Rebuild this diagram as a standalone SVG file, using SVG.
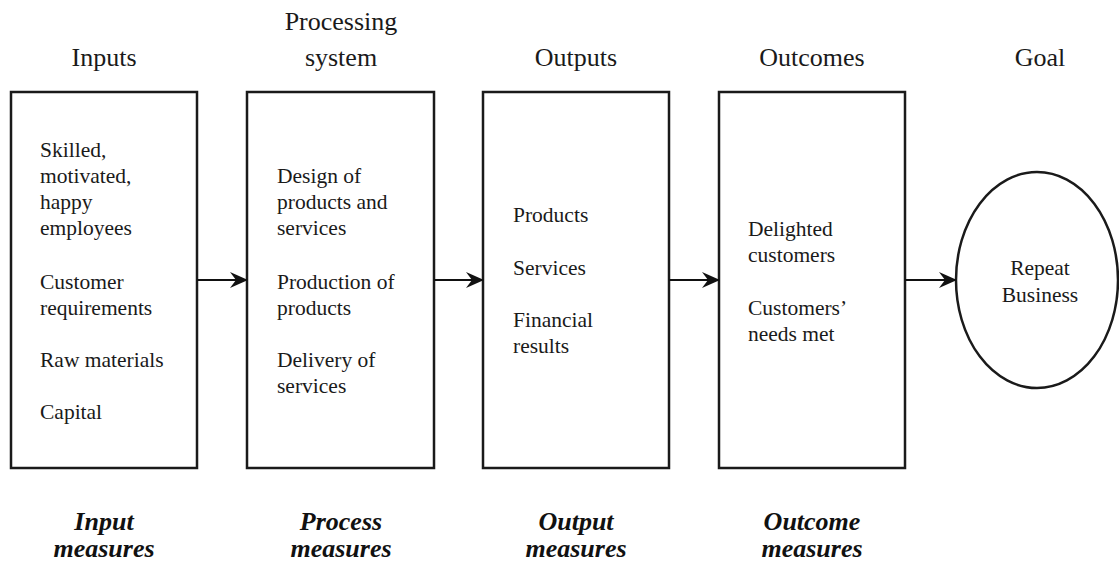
<svg xmlns="http://www.w3.org/2000/svg" width="1119" height="562" viewBox="0 0 1119 562">
  <style>
    text { font-family: "Liberation Serif", "Times New Roman", Times, serif; }
    .box { fill: #ffffff; stroke: #1a1a1a; stroke-width: 2.5; }
    .head { font-size: 26px; fill: #1a1a1a; text-anchor: middle; }
    .body { font-size: 21.5px; fill: #1a1a1a; }
    .mid { text-anchor: middle; }
    .measure { font-size: 26px; font-weight: bold; font-style: italic; fill: #111111; text-anchor: middle; }
    .link { stroke: #111111; stroke-width: 2.2; fill: none; }
  </style>
  <defs>
    <marker id="arrow" viewBox="0 0 18 16" refX="17" refY="8" markerWidth="18" markerHeight="16" markerUnits="userSpaceOnUse" orient="auto">
      <path d="M0,0 L18,8 L0,16 L6,8 Z" fill="#111111"/>
    </marker>
  </defs>

  <rect width="1119" height="562" fill="#ffffff"/>

  <!-- Column headings -->
  <g id="headings">
    <text class="head" x="104" y="66">Inputs</text>
    <text class="head" x="341" y="30">Processing</text>
    <text class="head" x="341" y="66">system</text>
    <text class="head" x="576" y="66">Outputs</text>
    <text class="head" x="812" y="66">Outcomes</text>
    <text class="head" x="1040" y="66">Goal</text>
  </g>

  <!-- Inputs -->
  <g id="inputs">
    <rect class="box" x="11" y="92" width="186" height="376"/>
    <text class="body" x="40" y="157">Skilled,</text>
    <text class="body" x="40" y="183">motivated,</text>
    <text class="body" x="40" y="209">happy</text>
    <text class="body" x="40" y="235">employees</text>
    <text class="body" x="40" y="289">Customer</text>
    <text class="body" x="40" y="315">requirements</text>
    <text class="body" x="40" y="367">Raw materials</text>
    <text class="body" x="40" y="419">Capital</text>
  </g>

  <!-- Processing system -->
  <g id="processing">
    <rect class="box" x="247" y="92" width="187" height="376"/>
    <text class="body" x="277" y="183">Design of</text>
    <text class="body" x="277" y="209">products and</text>
    <text class="body" x="277" y="235">services</text>
    <text class="body" x="277" y="289">Production of</text>
    <text class="body" x="277" y="315">products</text>
    <text class="body" x="277" y="367">Delivery of</text>
    <text class="body" x="277" y="393">services</text>
  </g>

  <!-- Outputs -->
  <g id="outputs">
    <rect class="box" x="483" y="92" width="186" height="376"/>
    <text class="body" x="513" y="222">Products</text>
    <text class="body" x="513" y="275">Services</text>
    <text class="body" x="513" y="327">Financial</text>
    <text class="body" x="513" y="353">results</text>
  </g>

  <!-- Outcomes -->
  <g id="outcomes">
    <rect class="box" x="719" y="92" width="186" height="376"/>
    <text class="body" x="748" y="236">Delighted</text>
    <text class="body" x="748" y="262">customers</text>
    <text class="body" x="748" y="315">Customers’</text>
    <text class="body" x="748" y="341">needs met</text>
  </g>

  <!-- Goal -->
  <g id="goal">
    <ellipse class="box" cx="1037" cy="280" rx="81" ry="108" stroke-width="2"/>
    <text class="body mid" x="1040" y="275">Repeat</text>
    <text class="body mid" x="1040" y="302">Business</text>
  </g>

  <!-- Connectors -->
  <g id="connectors">
    <line class="link" x1="197" y1="280" x2="247" y2="280" marker-end="url(#arrow)"/>
    <line class="link" x1="434" y1="280" x2="483" y2="280" marker-end="url(#arrow)"/>
    <line class="link" x1="669" y1="280" x2="719" y2="280" marker-end="url(#arrow)"/>
    <line class="link" x1="905" y1="280" x2="956" y2="280" marker-end="url(#arrow)"/>
  </g>

  <!-- Measure labels -->
  <g id="measures">
    <text class="measure" x="104" y="530">Input</text>
    <text class="measure" x="104" y="557">measures</text>
    <text class="measure" x="341" y="530">Process</text>
    <text class="measure" x="341" y="557">measures</text>
    <text class="measure" x="576" y="530">Output</text>
    <text class="measure" x="576" y="557">measures</text>
    <text class="measure" x="812" y="530">Outcome</text>
    <text class="measure" x="812" y="557">measures</text>
  </g>
</svg>
